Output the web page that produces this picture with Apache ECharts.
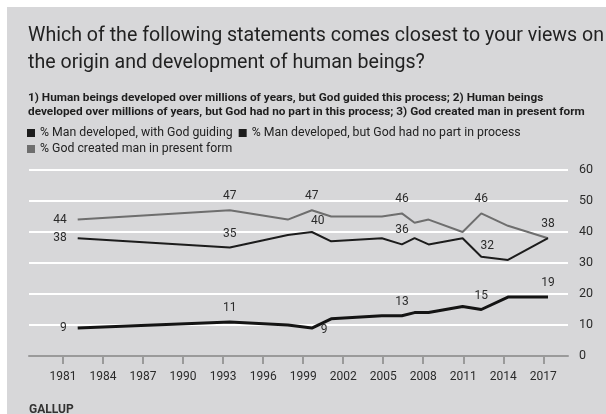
<!DOCTYPE html>
<html>
<head>
<meta charset="utf-8">
<script src="https://cdn.jsdelivr.net/npm/echarts@6/dist/echarts.min.js"></script>
<style>
  html, body { margin: 0; padding: 0; background: #ffffff; }
  #panel { position: absolute; left: 7px; top: 7px; width: 599px; height: 407px; background: #d7d7d9; }
  #chart { position: absolute; left: 0; top: 0; width: 606px; height: 414px; }
</style>
</head>
<body>
<div id="panel"></div>
<div id="chart"></div>
<script>
// Survey dates (fractional years) and percentages per response
const surveyDates = [1982.1, 1993.5, 1997.85, 1999.65, 2001.1, 2004.9, 2006.4, 2007.35, 2008.4, 2010.95, 2012.35, 2014.35, 2017.35];
const godGuiding  = [38, 35, 39, 40, 37, 38, 36, 38, 36, 38, 32, 31, 38];
const noGodPart   = [9, 11, 10, 9, 12, 13, 13, 14, 14, 16, 15, 19, 19];
const createdNow  = [44, 47, 44, 47, 45, 45, 46, 43, 44, 40, 46, 42, 38];

const yearTicks = [1981, 1984, 1987, 1990, 1993, 1996, 1999, 2002, 2005, 2008, 2011, 2014, 2017];

const seriesNames = [
  '% Man developed, with God guiding',
  '% Man developed, but God had no part in process',
  '% God created man in present form'
];

// Which points carry a value label, and where it sits
const labeledGuiding = { 0: 'left', 1: 'top', 3: 'topRight', 6: 'top', 10: 'topRight' };
const labeledNoGod   = { 0: 'left', 1: 'top', 3: 'right', 6: 'top', 10: 'top', 12: 'top' };
const labeledCreated = { 0: 'left', 1: 'top', 3: 'top', 6: 'top', 10: 'top', 12: 'top' };

const labelFont = { color: '#2b2b2b', fontSize: 12, fontFamily: 'Roboto' };

function labelFor(pos) {
  if (pos === 'left') return { show: true, position: 'left', distance: 11, ...labelFont };
  if (pos === 'right') return { show: true, position: 'right', distance: 9, offset: [0, 2], ...labelFont };
  if (pos === 'topRight') return { show: true, position: 'top', distance: 5, offset: [6, 0], ...labelFont };
  return { show: true, position: 'top', distance: 8, ...labelFont };
}

function buildData(values, labeled) {
  return values.map((v, i) => {
    const item = { value: [surveyDates[i], v] };
    if (labeled[i] !== undefined) item.label = labelFor(labeled[i]);
    return item;
  });
}

const chart = echarts.init(document.getElementById('chart'), null, { renderer: 'canvas' });

chart.setOption({
  backgroundColor: 'transparent',
  animation: false,
  title: {
    text: 'Which of the following statements comes closest to your views on\nthe origin and development of human beings?',
    subtext: '1) Human beings developed over millions of years, but God guided this process; 2) Human beings\ndeveloped over millions of years, but God had no part in this process; 3) God created man in present form',
    left: 23,
    top: 18,
    itemGap: 14,
    textStyle: { color: '#222', fontSize: 19.6, fontWeight: 'normal', lineHeight: 27, fontFamily: 'Roboto' },
    subtextStyle: { color: '#1e1e1e', fontSize: 11.8, fontWeight: 'bold', lineHeight: 14, fontFamily: 'Roboto' }
  },
  legend: [
    {
      data: [seriesNames[0], seriesNames[1]],
      left: 22, top: 122,
      icon: 'rect', itemWidth: 8, itemHeight: 8, itemGap: 6,
      textStyle: { color: '#222', fontSize: 12.3, fontFamily: 'Roboto' }
    },
    {
      data: [seriesNames[2]],
      left: 22, top: 138,
      icon: 'rect', itemWidth: 8, itemHeight: 8,
      textStyle: { color: '#222', fontSize: 12.3, fontFamily: 'Roboto' }
    }
  ],
  grid: { left: 29, right: 38, top: 170, bottom: 58 },
  xAxis: {
    type: 'value',
    min: 1978.45,
    max: 2018.85,
    axisLine: { lineStyle: { color: '#9a9a9a', width: 2 } },
    axisTick: { show: true, customValues: yearTicks, length: 8, lineStyle: { color: '#9a9a9a', width: 2 } },
    axisLabel: { customValues: yearTicks, formatter: v => String(v), color: '#2b2b2b', fontSize: 12, margin: 15, fontFamily: 'Roboto' },
    splitLine: { show: false }
  },
  yAxis: {
    type: 'value',
    position: 'right',
    min: 0, max: 60, interval: 10,
    axisLine: { show: false },
    axisTick: { show: false },
    axisLabel: { color: '#2b2b2b', fontSize: 12.5, margin: 11, fontFamily: 'Roboto' },
    splitLine: { lineStyle: { color: '#ffffff', width: 2 } }
  },
  series: [
    {
      name: seriesNames[2],
      type: 'line',
      symbol: 'circle',
      symbolSize: 0,
      color: '#6e6e6e',
      lineStyle: { color: '#6e6e6e', width: 2 },
      data: buildData(createdNow, labeledCreated),
      z: 2
    },
    {
      name: seriesNames[0],
      type: 'line',
      symbol: 'circle',
      symbolSize: 0,
      color: '#1c1c1c',
      lineStyle: { color: '#1c1c1c', width: 2 },
      data: buildData(godGuiding, labeledGuiding),
      z: 3
    },
    {
      name: seriesNames[1],
      type: 'line',
      symbol: 'circle',
      symbolSize: 0,
      color: '#1c1c1c',
      lineStyle: { color: '#141414', width: 3 },
      data: buildData(noGodPart, labeledNoGod),
      z: 4
    }
  ],
  graphic: [
    {
      type: 'text',
      left: 29, top: 404,
      style: { text: 'GALLUP', fill: '#333', font: 'bold 12px Roboto' }
    }
  ]
});
</script>
</body>
</html>
